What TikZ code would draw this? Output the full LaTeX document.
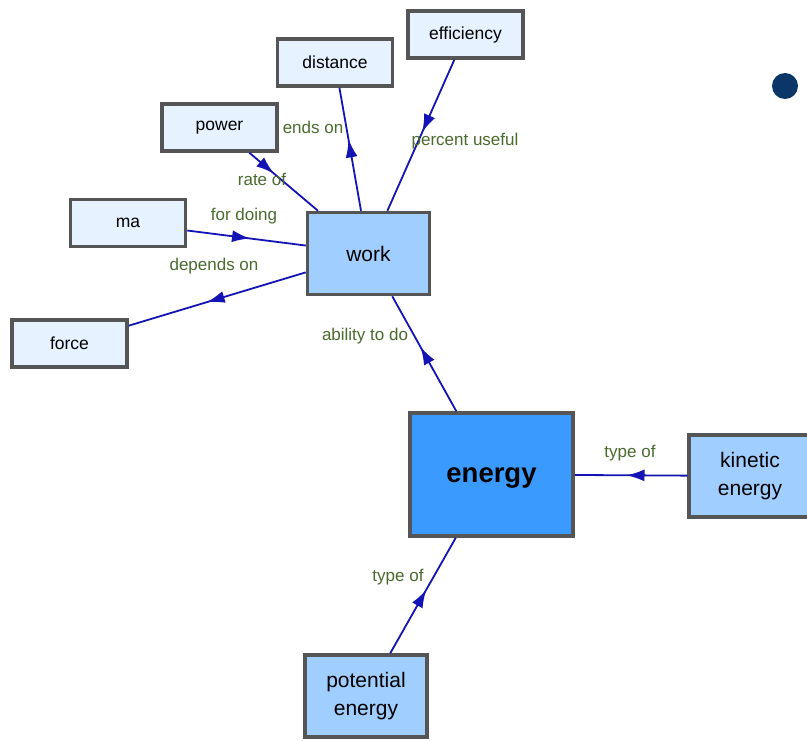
\documentclass[tikz,border=0pt]{standalone}
\usepackage{fontspec}
\setmainfont{Liberation Sans}
\usetikzlibrary{arrows.meta,decorations.markings}
\definecolor{boxline}{HTML}{555555}
\definecolor{palefill}{HTML}{E6F2FF}
\definecolor{midfill}{HTML}{A0CFFF}
\definecolor{darkfill}{HTML}{3A9AFE}
\definecolor{linkblue}{HTML}{1414B4}
\definecolor{labelgreen}{HTML}{4A6B2E}
\definecolor{dotnavy}{HTML}{0B3768}
\tikzset{
  concept/.style={draw=boxline, line width=3.5pt, inner sep=2pt, align=center, font=\fontsize{17.5}{20}\selectfont},
  small/.style={concept, fill=palefill, minimum width=115pt, minimum height=47pt},
  mid/.style={concept, fill=midfill, minimum width=122pt, minimum height=82pt, font=\fontsize{21}{28}\selectfont},
  big/.style={concept, fill=darkfill, minimum width=163pt, minimum height=123pt, font=\fontsize{27.5}{32}\selectfont\bfseries},
  link/.style={draw=linkblue, line width=1.8pt},
  midarrow/.style={postaction={decorate, decoration={markings, mark=at position #1 with {\arrow[linkblue]{Latex[length=18pt,width=12pt]}}}}},
  lab/.style={text=labelgreen, inner sep=0pt, font=\fontsize{17}{20}\selectfont}
}
\begin{document}
\begin{tikzpicture}[x=1pt,y=-1pt]
\useasboundingbox[fill=white] (0,0) rectangle (807,741);
% nodes
\node[small] (efficiency) at (465.5,34.5) {efficiency};
\node[small] (distance) at (335,62.5) {distance};
\node[small] (power) at (219.5,127.5) {power};
\node[small] (ma) at (128,223) {ma};
\node[small] (force) at (69.5,343.5) {force};
\node[mid] (work) at (368.5,253.5) {work};
\node[big] (energy) at (491.5,474.5) {\raisebox{-4pt}[\height][\depth]{energy}};
\node[mid] (kinetic) at (750,476) {kinetic\\energy};
\node[mid] (potential) at (366,696) {potential\\energy};
% dot
\fill[dotnavy] (785,86) circle (13pt);
% connectors
\draw[link, midarrow=0.58] (work) -- (distance);
\draw[link, midarrow=0.48] (efficiency) -- (work);
\draw[link, midarrow=0.36] (power) -- (work);
\draw[link, midarrow=0.53] (ma) -- (work);
\draw[link, midarrow=0.56] (work) -- (force);
\draw[link, midarrow=0.56] (energy) -- (work);
\draw[link, midarrow=0.54] (kinetic) -- (energy);
\draw[link, midarrow=0.55] (potential) -- (energy);
% labels
\node[lab] (l1) at (313,127) {ends on};
\node[lab] (l2) at (465,141) {percent useful};
\node[lab] (l3) at (262,179) {rate of};
\node[lab] (l4) at (244,216) {for doing};
\node[lab] (l5) at (214,266) {depends on};
\node[lab] (l6) at (365,336) {ability to do};
\node[lab] (l7) at (630,453) {type of};
\node[lab] (l8) at (398,577) {type of};
\end{tikzpicture}
\end{document}
